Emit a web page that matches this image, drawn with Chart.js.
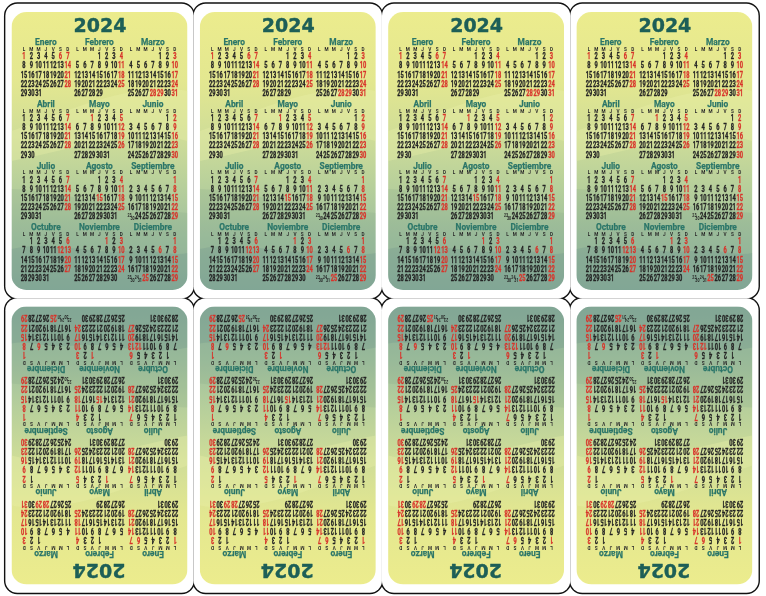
<!DOCTYPE html>
<html>
<head>
<meta charset="utf-8">
<script src="https://cdn.jsdelivr.net/npm/chart.js@4.4.1/dist/chart.umd.min.js"></script>
<style>
  html, body { margin: 0; padding: 0; background: #fff; }
  canvas { display: block; }
</style>
</head>
<body>
<canvas id="calendarChart" width="766" height="596"></canvas>
<script>
// Data
const yearLabel = '2024';
const monthNames = ['Enero', 'Febrero', 'Marzo', 'Abril', 'Mayo', 'Junio',
  'Julio', 'Agosto', 'Septiembre', 'Octubre', 'Noviembre', 'Diciembre'];
const weekLetters = ['L', 'M', 'M', 'J', 'V', 'S', 'D'];
const monthLengths = [31, 29, 31, 30, 31, 30, 31, 31, 30, 31, 30, 31];
const firstWeekday = [0, 3, 4, 0, 2, 5, 0, 3, 6, 1, 4, 6]; // 0 = lunes
const holidays = [[1, 6], [], [28, 29], [], [1], [], [], [15], [], [12], [1], [6, 8, 25]];

// Layout (canvas units)
const CARD_COLS = 4, CARD_ROWS = 2;
const ORIGIN_X = 99.5, ORIGIN_Y = 151;
const PITCH_X = 188.3, PITCH_Y = 294.5;
const COL_STEP = 7.3, BLOCK_STEP = 53.5, QUARTER_STEP = 61.7, ROW_STEP = 9.2;

const TXT_FONT = 'Roboto, "DejaVu Sans", sans-serif';

function place(cx, cy, rot, dx, dy, text) {
  return rot ? { x: cx - dx, y: cy - dy, rot: true, text } : { x: cx + dx, y: cy + dy, rot: false, text };
}

const yearPts = [], monthPts = [], letterPts = [], dayPts = [], redPts = [], smallPts = [];

for (let r = 0; r < CARD_ROWS; r++) {
  for (let c = 0; c < CARD_COLS; c++) {
    const cx = ORIGIN_X + c * PITCH_X;
    const cy = ORIGIN_Y + r * PITCH_Y;
    const rot = r === 1;
    yearPts.push(place(cx, cy, rot, 0.5, -123.5, yearLabel));

    monthNames.forEach((name, k) => {
      const q = Math.floor(k / 3), m = k % 3;
      const lx = -75.5 + m * BLOCK_STEP;
      const ty = -108 + q * QUARTER_STEP;
      monthPts.push(place(cx, cy, rot, lx + 3 * COL_STEP, ty, name));
      weekLetters.forEach((l, i) => letterPts.push(place(cx, cy, rot, lx + i * COL_STEP, ty + 6.5, l)));

      const len = monthLengths[k];
      const stacked = {};
      for (let d = 1; d <= len; d++) {
        const idx = firstWeekday[k] + d - 1;
        if (Math.floor(idx / 7) >= 5) stacked[d - 7] = d;
      }
      for (let d = 1; d <= len; d++) {
        const idx = firstWeekday[k] + d - 1;
        const row = Math.floor(idx / 7), col = idx % 7;
        if (row >= 5) continue;
        const dx = lx + col * COL_STEP, dy = ty + 14 + row * ROW_STEP;
        if (stacked[d]) {
          smallPts.push(place(cx, cy, rot, dx - 1.5, dy - 1.4, String(d)));
          smallPts.push(place(cx, cy, rot, dx + 1.5, dy + 1.6, String(stacked[d])));
          continue;
        }
        const isRed = col === 6 || holidays[k].includes(d);
        (isRed ? redPts : dayPts).push(place(cx, cy, rot, dx, dy, String(d)));
      }
    });
  }
}

function roundRect(ctx, x, y, w, h, rad) {
  ctx.beginPath();
  ctx.moveTo(x + rad, y);
  ctx.lineTo(x + w - rad, y);
  ctx.arcTo(x + w, y, x + w, y + rad, rad);
  ctx.lineTo(x + w, y + h - rad);
  ctx.arcTo(x + w, y + h, x + w - rad, y + h, rad);
  ctx.lineTo(x + rad, y + h);
  ctx.arcTo(x, y + h, x, y + h - rad, rad);
  ctx.lineTo(x, y + rad);
  ctx.arcTo(x, y, x + rad, y, rad);
  ctx.closePath();
}

// card backgrounds + die-cut outline
const cardsPlugin = {
  id: 'cards',
  beforeDatasetsDraw(chart) {
    const { ctx, scales: { x, y } } = chart;
    const cards = [];
    for (let r = 0; r < CARD_ROWS; r++) {
      for (let c = 0; c < CARD_COLS; c++) {
        cards.push({ cx: ORIGIN_X + c * PITCH_X, cy: ORIGIN_Y + r * PITCH_Y, rot: r === 1 });
      }
    }
    const cutRect = cd => {
      const x0 = x.getPixelForValue(cd.cx - PITCH_X / 2), x1 = x.getPixelForValue(cd.cx + PITCH_X / 2);
      const y0 = y.getPixelForValue(cd.cy - PITCH_Y / 2), y1 = y.getPixelForValue(cd.cy + PITCH_Y / 2);
      roundRect(ctx, x0, y0, x1 - x0, y1 - y0, 12);
    };
    ctx.save();
    // outline: union of rounded rects
    ctx.strokeStyle = '#111';
    ctx.lineWidth = 2.8;
    cards.forEach(cd => { cutRect(cd); ctx.stroke(); });
    ctx.fillStyle = '#fff';
    cards.forEach(cd => { cutRect(cd); ctx.fill(); });

    // printed area
    cards.forEach(cd => {
      const px = x.getPixelForValue(cd.cx), py = y.getPixelForValue(cd.cy);
      const hw = 88, hh = 139;
      ctx.save();
      ctx.translate(px, py);
      if (cd.rot) ctx.rotate(Math.PI);
      roundRect(ctx, -hw, -hh, hw * 2, hh * 2, 15);
      ctx.clip();
      const g = ctx.createLinearGradient(0, -hh, 0, hh);
      g.addColorStop(0, '#ecec8d');
      g.addColorStop(0.25, '#e3e790');
      g.addColorStop(0.45, '#cfdd98');
      g.addColorStop(0.62, '#b8d09b');
      g.addColorStop(0.8, '#a0c09e');
      g.addColorStop(1, '#8fb39e');
      ctx.fillStyle = g;
      ctx.fillRect(-hw, -hh, hw * 2, hh * 2);

      // light diagonal band
      ctx.fillStyle = 'rgba(235, 240, 170, 0.35)';
      ctx.beginPath();
      ctx.moveTo(-hw, -20);
      ctx.bezierCurveTo(-30, -40, 30, -70, hw, -60);
      ctx.lineTo(hw, -10);
      ctx.bezierCurveTo(30, -25, -30, 0, -hw, 10);
      ctx.closePath();
      ctx.fill();

      // hills
      ctx.fillStyle = 'rgba(110, 150, 125, 0.14)';
      ctx.beginPath();
      ctx.moveTo(-hw, 38);
      ctx.bezierCurveTo(-40, 40, 0, 55, hw, 62);
      ctx.lineTo(hw, hh);
      ctx.lineTo(-hw, hh);
      ctx.closePath();
      ctx.fill();

      ctx.fillStyle = 'rgba(95, 135, 135, 0.2)';
      ctx.beginPath();
      ctx.moveTo(-hw, 98);
      ctx.bezierCurveTo(-45, 88, -10, 104, 25, 100);
      ctx.bezierCurveTo(50, 96, 70, 106, hw, 102);
      ctx.lineTo(hw, hh);
      ctx.lineTo(-hw, hh);
      ctx.closePath();
      ctx.fill();
      ctx.restore();
    });
    ctx.restore();
  }
};

// draws each point's text at its scaled position
const textPlugin = {
  id: 'calText',
  afterDatasetsDraw(chart) {
    const { ctx } = chart;
    chart.data.datasets.forEach((ds, i) => {
      const meta = chart.getDatasetMeta(i);
      ctx.save();
      ctx.font = ds.textFont;
      ctx.fillStyle = ds.textColor;
      ctx.strokeStyle = ds.textColor;
      ctx.lineWidth = ds.textStroke || 0;
      ctx.lineJoin = 'round';
      ctx.textAlign = 'center';
      ctx.textBaseline = 'middle';
      meta.data.forEach((el, j) => {
        const p = ds.data[j];
        ctx.save();
        ctx.translate(el.x, el.y);
        if (p.rot) ctx.rotate(Math.PI);
        ctx.scale(ds.textScaleX || 1, 1);
        ctx.fillText(p.text, 0, 0);
        if (ds.textStroke) ctx.strokeText(p.text, 0, 0);
        ctx.restore();
      });
      ctx.restore();
    });
  }
};

const mk = (label, data, textFont, textColor, textScaleX, textStroke) => ({
  label, data, textFont, textColor, textScaleX, textStroke,
  pointRadius: 0, pointHoverRadius: 0, showLine: false
});

new Chart(document.getElementById('calendarChart'), {
  type: 'scatter',
  data: {
    datasets: [
      mk('Año', yearPts, 'bold 19px "DejaVu Sans", sans-serif', '#1d5f57', 1, 0.4),
      mk('Meses', monthPts, 'bold 9.5px ' + TXT_FONT, '#2b7669', 0.88, 0.25),
      mk('Días semana', letterPts, 'bold 5.5px ' + TXT_FONT, '#2b2b2b', 0.85, 0),
      mk('Días', dayPts, 'bold 8.4px ' + TXT_FONT, '#242424', 0.68, 0.3),
      mk('Festivos', redPts, 'bold 8.4px ' + TXT_FONT, '#d8342b', 0.68, 0.3),
      mk('Dobles', smallPts, 'bold 4.5px ' + TXT_FONT, '#242424', 0.8, 0)
    ]
  },
  options: {
    responsive: false,
    devicePixelRatio: 1,
    animation: false,
    events: [],
    layout: { padding: 0 },
    plugins: { legend: { display: false }, tooltip: { enabled: false } },
    scales: {
      x: { type: 'linear', min: 0, max: 766, display: false },
      y: { type: 'linear', min: 0, max: 596, reverse: true, display: false }
    }
  },
  plugins: [cardsPlugin, textPlugin]
});
</script>
</body>
</html>
